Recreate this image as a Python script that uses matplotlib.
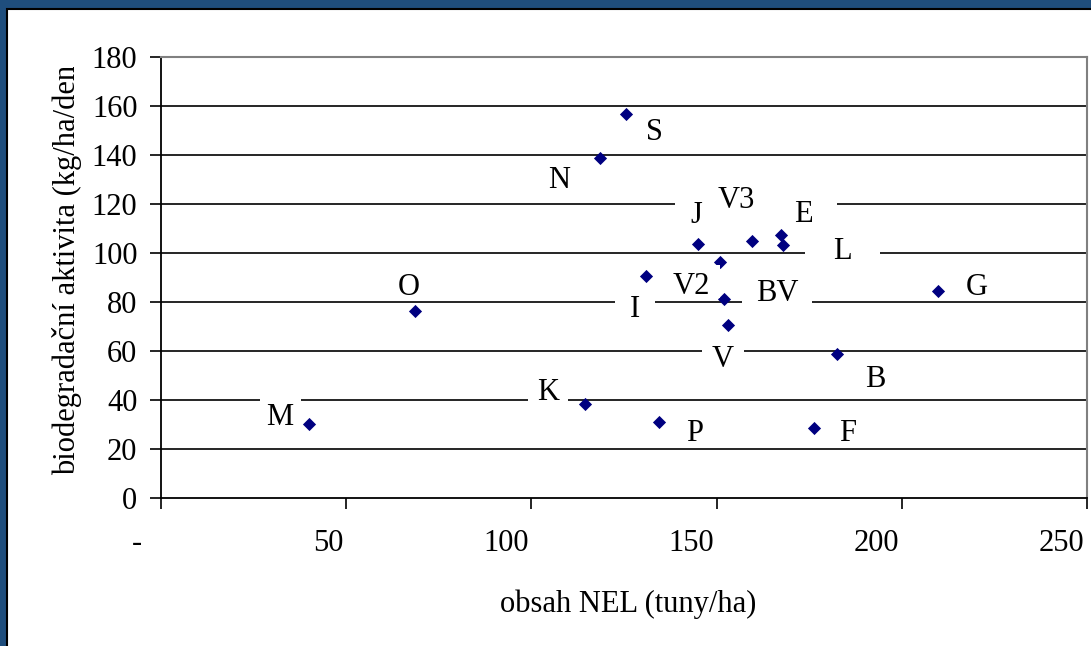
import numpy as np
import matplotlib
matplotlib.use('Agg')
import matplotlib.pyplot as plt
from matplotlib.patches import Rectangle
from matplotlib.path import Path
from matplotlib.transforms import Bbox, TransformedBbox, ScaledTranslation

plt.rcParams['font.family'] = ['Liberation Serif', 'DejaVu Serif']
plt.rcParams['font.size'] = 22

# data
names = ['S', 'N', 'J', 'V3', 'E', 'L', 'V2', 'I', 'BV', 'V', 'B', 'G', 'O', 'M', 'K', 'P', 'F']
nel = [125.5, 118.5, 145.1, 159.5, 167.4, 167.8, 150.9, 131.0, 152.0, 153.1, 182.6, 209.8, 68.6, 40.0, 114.5, 134.4, 176.3]
aktivita = [156.7, 138.8, 103.5, 105.0, 107.3, 103.3, 96.2, 90.6, 81.2, 70.6, 58.8, 84.5, 76.3, 30.2, 38.4, 31.0, 28.6]

xticks = [0, 50, 100, 150, 200, 250]
xticklabels = ['-', '50', '100', '150', '200', '250']
yticks = np.arange(0, 181, 20)

# label placement in pixels (right, down) from the point, and white box half-padding
offsets = [(29, 16), (-41, 20), (-2, -31), (-15, -43), (22, -23), (60, 4), (-29, 22), (-11, 31),
           (53, -8), (-5, 32), (38, 23), (39, -6), (-6, -26), (-29, -9), (-37, -14), (36, 9), (34, 3)]
box_pad = [10, 10, 16, 20, 25, 28, 10, 15, 14, 10, 10, 10, 10, 7, 9, 10, 10]


def label_box(padx):
    # white box like excel data labels: wide, sitting a bit higher than the text bbox
    def box(x0, y0, width, height, mutation_size):
        x1, x2 = x0 - padx, x0 + width + padx
        y1, y2 = y0 + 3, y0 + height + 7
        return Path([(x1, y1), (x2, y1), (x2, y2), (x1, y2), (x1, y1)], closed=True)
    return box


W, H = 1091, 646
fig = plt.figure(figsize=(W / 100, H / 100), dpi=100)
fig.patch.set_facecolor('#1f4e7d')
fig.patches.append(Rectangle((7 / W, -0.05), 1.1, 1 - 9 / H + 0.05, transform=fig.transFigure,
                             facecolor='white', edgecolor='black', lw=1.5, zorder=-1))

ax = fig.add_axes([161 / W, 1 - 498 / H, (1087 - 161) / W, (498 - 57) / H])
ax.scatter(nel, aktivita, marker='D', s=45, color='#000080', zorder=3, linewidths=0)

# boxes first (invisible text), then the letters on top so no box hides a neighbour
for n, x, y, (dx, dy), p in zip(names, nel, aktivita, offsets, box_pad):
    ax.annotate(n, (x, y), xytext=(dx * 0.72, -(dy + 10) * 0.72), textcoords='offset points',
                ha='center', va='baseline', fontsize=22, zorder=4, color='none',
                bbox=dict(boxstyle=label_box(p), fc='white', ec='none'))
for n, x, y, (dx, dy) in zip(names, nel, aktivita, offsets):
    ax.annotate(n, (x, y), xytext=(dx * 0.72, -(dy + 10) * 0.72), textcoords='offset points',
                ha='center', va='baseline', fontsize=22, zorder=5, color='black')

ax.set_xlim(0, 250)
ax.set_ylim(0, 180)
ax.set_xticks(xticks)
ax.set_xticklabels(xticklabels)
ax.set_yticks(yticks)

ax.yaxis.grid(True, color='black', lw=1.2)
ax.get_ygridlines()[0].set_visible(False)
ax.get_ygridlines()[-1].set_visible(False)
ax.set_axisbelow(True)

for s in ['left', 'bottom']:
    ax.spines[s].set_color('black')
    ax.spines[s].set_linewidth(1.3)
for s in ['top', 'right']:
    ax.spines[s].set_color('#808080')
    ax.spines[s].set_linewidth(1.5)

ax.tick_params(axis='y', direction='out', length=8, width=1.2, pad=9, labelsize=22)
ax.tick_params(axis='x', direction='out', length=8, width=1.2, pad=14, labelsize=22)
for i, lbl in enumerate(ax.get_xticklabels()):
    lbl.set_ha('right')
    shift = -19 if i == 0 else -3
    lbl.set_transform(lbl.get_transform() + ScaledTranslation(shift / 100, 0, fig.dpi_scale_trans))

fig.text(500 / W, 1 - 612 / H, 'obsah NEL (tuny/ha)', ha='left', va='baseline', fontsize=22)
yl = fig.text(75 / W, 1 - 475 / H, 'biodegradační aktivita (kg/ha/den)', rotation=90,
              rotation_mode='anchor', ha='left', va='baseline', fontsize=22)
yl.set_clip_box(TransformedBbox(Bbox.from_extents(0, 0, 1, 1 - 67 / H), fig.transFigure))
yl.set_clip_on(True)

fig.savefig('out.png', dpi=100, facecolor=fig.get_facecolor())
